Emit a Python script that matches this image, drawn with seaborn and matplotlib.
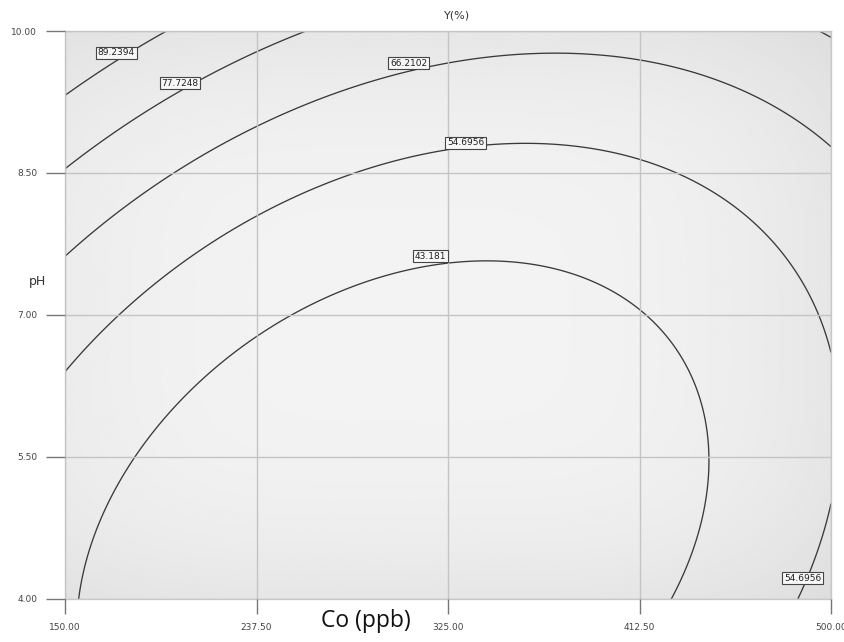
import numpy as np
import matplotlib
matplotlib.use("Agg")
import matplotlib.pyplot as plt
import seaborn as sns

# Response-surface model for Y(%) in coded units:
# A = (Co - 325) / 175, B = (pH - 7) / 3
# Y = b0 + bA*A + bB*B + bAB*A*B + bAA*A^2 + bBB*B^2
coef_names = ["b0", "bA", "bB", "bAB", "bAA", "bBB"]
coef_values = [39.259, -2.014, 19.155, -9.092, 18.561, 12.642]

# Factor ranges and tick positions
co_ticks = [150.00, 237.50, 325.00, 412.50, 500.00]
ph_ticks = [4.00, 5.50, 7.00, 8.50, 10.00]

# Contour levels
levels = [43.181, 54.6956, 66.2102, 77.7248, 89.2394]

# Where each contour label sits (Co, pH), one per drawn label
label_levels = [89.2394, 77.7248, 66.2102, 54.6956, 43.181, 54.6956]
label_co = [173.5, 202.5, 307.0, 333.0, 317.0, 487.0]
label_ph = [9.77, 9.45, 9.66, 8.82, 7.62, 4.22]

sns.set_theme(style="white")
plt.rcParams["font.family"] = ["DejaVu Sans"]

fig = plt.figure(figsize=(8.45, 6.42), dpi=100)
fig.patch.set_facecolor("white")
ax = fig.add_axes([65/845, 1-599/642, (831-65)/845, (599-31)/642])

x_lo, x_hi = co_ticks[0], co_ticks[-1]
y_lo, y_hi = ph_ticks[0], ph_ticks[-1]

# soft shading behind the plot area: flat light centre, darker rim
u, v = np.meshgrid(np.linspace(0, 1, 400), np.linspace(0, 1, 300))
d = ((np.abs(u - 0.45) / 0.55) ** 4 + (np.abs(v - 0.5) / 0.5) ** 4) ** 0.25
shade = np.clip(0.952 - 0.05 * d ** 3, 0.86, 0.96)
ax.imshow(shade, cmap="gray", vmin=0, vmax=1, origin="lower",
          extent=[x_lo, x_hi, y_lo, y_hi], aspect="auto", zorder=0,
          interpolation="bilinear")

# evaluate the model on a grid
co = np.linspace(x_lo, x_hi, 400)
ph = np.linspace(y_lo, y_hi, 400)
CO, PH = np.meshgrid(co, ph)
A = (CO - 325.0) / 175.0
B = (PH - 7.0) / 3.0
c = dict(zip(coef_names, coef_values))
Z = (c["b0"] + c["bA"] * A + c["bB"] * B + c["bAB"] * A * B
     + c["bAA"] * A ** 2 + c["bBB"] * B ** 2)

ax.contour(CO, PH, Z, levels=levels, colors="#3a3a3a", linewidths=0.95, zorder=2)

for lv, xc, yc in zip(label_levels, label_co, label_ph):
    ax.text(xc, yc, f"{lv:g}", fontsize=6.5, color="#222222",
            ha="center", va="center", zorder=4,
            bbox=dict(boxstyle="square,pad=0.18", fc="#f7f7f7",
                      ec="#444444", lw=0.8))

ax.set_xlim(x_lo, x_hi)
ax.set_ylim(y_lo, y_hi)
ax.set_xticks(co_ticks)
ax.set_yticks(ph_ticks)
ax.set_xticklabels([f"{t:.2f}" for t in co_ticks])
ax.set_yticklabels([f"{t:.2f}" for t in ph_ticks])
ax.grid(True, color="#c4c4c4", linewidth=1.0, zorder=1)
ax.set_axisbelow(False)
for sp in ax.spines.values():
    sp.set_color("#c8c8c8")
    sp.set_linewidth(1.0)
ax.tick_params(axis="y", length=14, width=1, color="#777777", pad=6,
               labelsize=6.5, labelcolor="#444444", left=True)
ax.tick_params(axis="x", length=10.5, width=1, color="#777777", pad=7,
               labelsize=6.5, labelcolor="#444444", bottom=True)

fig.text(457/845, 1-16/642, "Y(%)", fontsize=8, color="#333333",
         ha="center", va="center")
fig.text(38/845, 1-282/642, "pH", fontsize=9, color="#333333",
         ha="center", va="center")
fig.text(366/845, 1-621/642, "Co (ppb)", fontsize=16.5, color="#111111",
         ha="center", va="center", family=["Open Sans", "DejaVu Sans"])

fig.savefig("out.png", dpi=100, facecolor="white")
